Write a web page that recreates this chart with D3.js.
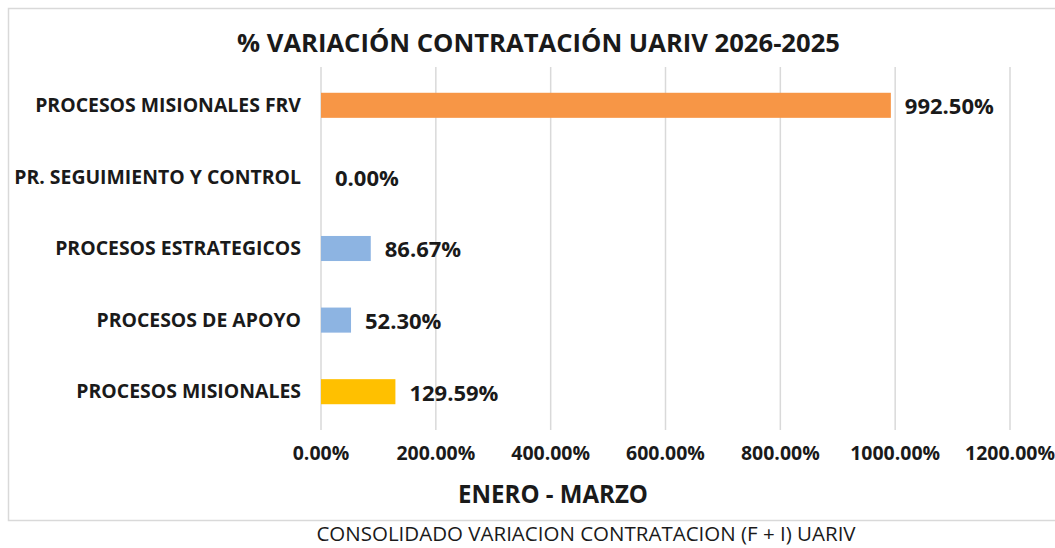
<!DOCTYPE html>
<html><head><meta charset="utf-8">
<script src="https://cdn.jsdelivr.net/npm/d3@7"></script>
<style>body{margin:0;background:#fff}svg{display:block}</style>
</head><body>
<svg id="c" width="1055" height="548"></svg>
<script>
const categories = ["PROCESOS MISIONALES FRV","PR. SEGUIMIENTO Y CONTROL","PROCESOS ESTRATEGICOS","PROCESOS DE APOYO","PROCESOS MISIONALES"];
const values = [992.50, 0.00, 86.67, 52.30, 129.59];
const colors = ["#F79646","#8DB4E2","#8DB4E2","#8DB4E2","#FFC000"];
const ticks = [0,200,400,600,800,1000,1200];
const titleText = "% VARIACIÓN CONTRATACIÓN UARIV 2026-2025";
const axisTitle = "ENERO - MARZO";
const caption = "CONSOLIDADO VARIACION CONTRATACION (F + I) UARIV";

const svg = d3.select("#c");
const font = "'Open Sans', 'Noto Sans', sans-serif";
const ink = "#1a1a1a";

// find font size so that `str` renders at `targetW` px wide
function fitSize(str, targetW, weight) {
  const t = svg.append("text").attr("font-family", font).attr("font-weight", weight)
    .attr("font-size", 20).text(str);
  const w = t.node().getComputedTextLength();
  t.remove();
  return 20 * targetW / w;
}

svg.append("rect").attr("x",8.5).attr("y",8.5).attr("width",1060).attr("height",512)
  .attr("fill","#fff").attr("stroke","#d9d9d9").attr("stroke-width",1.5);

const x = d3.scaleLinear().domain([0,1200]).range([321,1010]);
const y = d3.scaleBand().domain(categories).range([67,430]).paddingInner(0.65).paddingOuter(0.36);

svg.append("g").selectAll("line").data(ticks).join("line")
  .attr("x1",d=>x(d)).attr("x2",d=>x(d)).attr("y1",67).attr("y2",430)
  .attr("stroke","#d9d9d9").attr("stroke-width",1.5);

svg.append("g").selectAll("rect").data(values).join("rect")
  .attr("x",x(0)).attr("y",(d,i)=>y(categories[i]))
  .attr("width",d=>x(d)-x(0)).attr("height",y.bandwidth())
  .attr("fill",(d,i)=>colors[i]);

const valSize = fitSize("992.50%", 89, "bold");
svg.append("g").selectAll("text").data(values).join("text")
  .attr("x",d=>x(d)+14).attr("y",(d,i)=>y(categories[i])+y.bandwidth()/2+3)
  .attr("dominant-baseline","middle").attr("font-family",font).attr("font-weight","bold")
  .attr("font-size",valSize).attr("fill",ink).text(d=>d.toFixed(2)+"%");

const catSize = fitSize(categories[0], 266, "bold");
svg.append("g").selectAll("text").data(categories).join("text")
  .attr("x",301).attr("y",d=>y(d)+y.bandwidth()/2+1.5)
  .attr("text-anchor","end").attr("dominant-baseline","middle")
  .attr("font-family",font).attr("font-weight","bold").attr("font-size",catSize).attr("fill",ink).text(d=>d);

const tickSize = fitSize("1000.00%", 90, "bold");
svg.append("g").selectAll("text").data(ticks).join("text")
  .attr("x",d=>x(d)).attr("y",455).attr("text-anchor","middle").attr("dominant-baseline","middle")
  .attr("font-family",font).attr("font-weight","bold").attr("font-size",tickSize).attr("fill",ink)
  .text(d=>d.toFixed(2)+"%");

svg.append("text").attr("x",553).attr("y",497).attr("text-anchor","middle").attr("dominant-baseline","middle")
  .attr("font-family",font).attr("font-weight","bold").attr("font-size",fitSize(axisTitle,190,"bold")).attr("fill",ink).text(axisTitle);

svg.append("text").attr("x",538.5).attr("y",45).attr("text-anchor","middle").attr("dominant-baseline","middle")
  .attr("font-family",font).attr("font-weight","bold").attr("font-size",fitSize(titleText,603,"bold")).attr("fill",ink).text(titleText);

svg.append("text").attr("x",586).attr("y",536).attr("text-anchor","middle").attr("dominant-baseline","middle")
  .attr("font-family",font).attr("font-size",Math.min(20.5,fitSize(caption,586,"normal")))
  .attr("fill",ink).text(caption);
</script>
</body></html>
